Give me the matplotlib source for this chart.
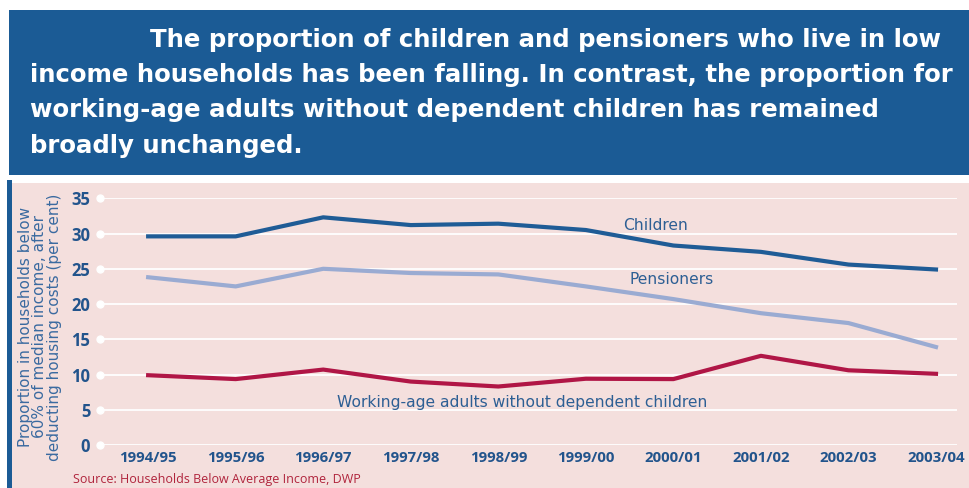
import matplotlib
matplotlib.use("Agg")
import matplotlib.pyplot as plt
from matplotlib.patches import Rectangle

years = ["1994/95", "1995/96", "1996/97", "1997/98", "1998/99",
         "1999/00", "2000/01", "2001/02", "2002/03", "2003/04"]
children = [29.6, 29.6, 32.3, 31.2, 31.4, 30.5, 28.3, 27.4, 25.6, 24.9]
pensioners = [23.8, 22.5, 25.0, 24.4, 24.2, 22.5, 20.7, 18.7, 17.3, 13.9]
working_age = [9.9, 9.35, 10.7, 9.0, 8.3, 9.4, 9.35, 12.65, 10.6, 10.1]
yticks = [0, 5, 10, 15, 20, 25, 30, 35]

W, H = 970, 488
BLUE = "#1b5b95"
PINK = "#f4dfdd"
TEXTBLUE = "#2d5f94"
TICKBLUE = "#22548c"

fig = plt.figure(figsize=(W / 100, H / 100), dpi=100)
fig.patch.set_facecolor("white")

def fx(px):
    return px / W

def fy(py):
    return 1 - py / H

# header
fig.patches.append(Rectangle((fx(9), fy(175)), fx(W - 9) + 0.01, fy(10) - fy(175),
                             transform=fig.transFigure, facecolor=BLUE, edgecolor="none", zorder=0))
# pink panel
fig.patches.append(Rectangle((fx(9), 0), 1, fy(183),
                             transform=fig.transFigure, facecolor=PINK, edgecolor="none", zorder=0))
# left blue border of panel
fig.patches.append(Rectangle((fx(7), 0), fx(5), fy(180),
                             transform=fig.transFigure, facecolor=BLUE, edgecolor="none", zorder=1))

title_lines = [
    (150, 40, "The proportion of children and pensioners who live in low"),
    (30, 75, "income households has been falling. In contrast, the proportion for"),
    (30, 110, "working-age adults without dependent children has remained"),
    (30, 146, "broadly unchanged."),
]
for x, y, t in title_lines:
    fig.text(fx(x), fy(y), t, color="white", fontsize=17.6, fontweight="bold",
             family="DejaVu Sans", ha="left", va="center")

ax = fig.add_axes([fx(100), fy(445), fx(957) - fx(100), fy(198.3) - fy(445)], zorder=3)
ax.set_facecolor("none")
xs = list(range(len(years)))
ax.set_xlim(-0.55, 9.24)
ax.set_ylim(0, 35)

for t in yticks:
    ax.axhline(t, color="white", lw=1.3, zorder=1)
ax.plot([-0.55] * len(yticks), yticks, "o", color="white", ms=5, clip_on=False, zorder=2)

ax.plot(xs, children, color="#1f5c96", lw=3.0, zorder=3)
ax.plot(xs, pensioners, color="#9aabd2", lw=3.0, zorder=3)
ax.plot(xs, working_age, color="#b01646", lw=3.0, zorder=3)

for s in ax.spines.values():
    s.set_visible(False)
ax.tick_params(length=0)
ax.set_yticks(yticks)
ax.set_yticklabels([str(v) for v in yticks], fontsize=12, fontweight="bold",
                   color=TICKBLUE, family="Open Sans")
ax.tick_params(axis="y", pad=7)
ax.set_xticks(xs)
ax.set_xticklabels(years, fontsize=10.8, fontweight="bold", color=TICKBLUE, family="Open Sans")
ax.tick_params(axis="x", pad=4)

ax.text(5.8, 31.1, "Children", fontsize=11.2, color=TEXTBLUE, ha="center", va="center", family="DejaVu Sans")
ax.text(5.98, 23.5, "Pensioners", fontsize=11.2, color=TEXTBLUE, ha="center", va="center", family="DejaVu Sans")
ax.text(4.27, 6.1, "Working-age adults without dependent children", fontsize=11.2,
        color=TEXTBLUE, ha="center", va="center", family="DejaVu Sans")

fig.text(fx(40), fy(327), "Proportion in households below\n60% of median income, after\ndeducting housing costs (per cent)",
         rotation=90, fontsize=11, color="#3a6aa0", ha="center", va="center",
         family="DejaVu Sans", linespacing=0.95, multialignment="center")

fig.text(fx(73), fy(480), "Source: Households Below Average Income, DWP", fontsize=9,
         color="#b0243c", family="Open Sans", ha="left", va="center")

fig.savefig("out.png", dpi=100)
